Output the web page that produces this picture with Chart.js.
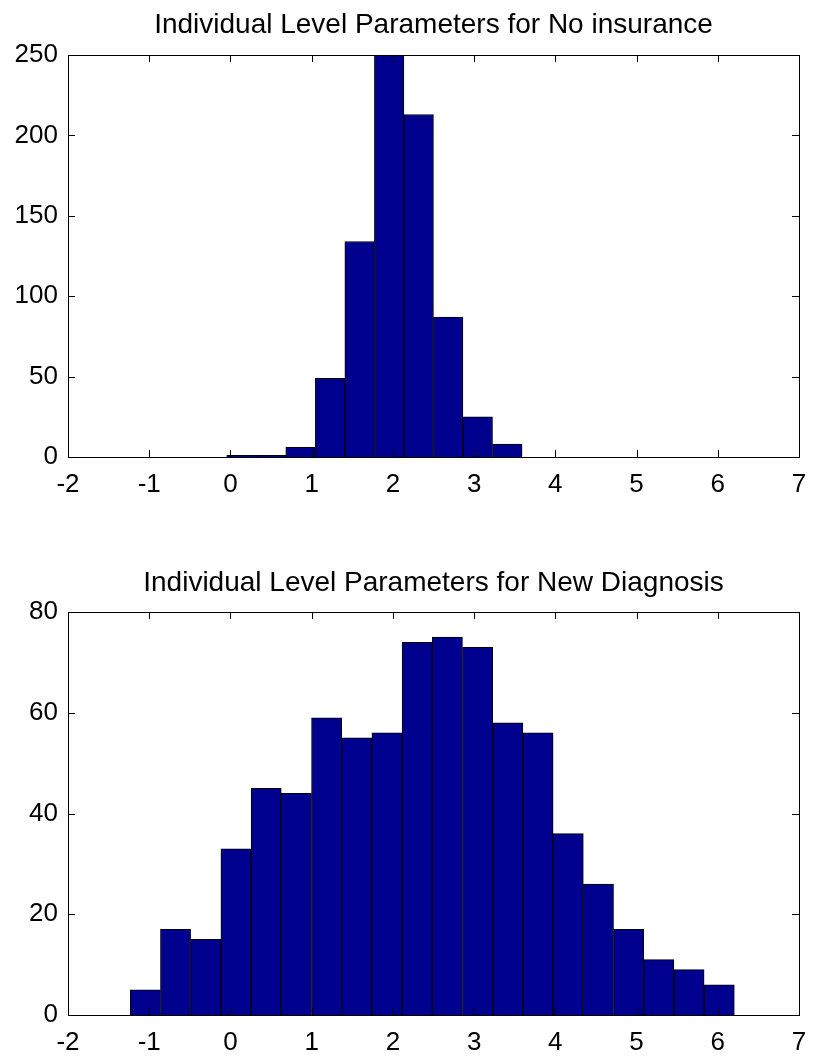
<!DOCTYPE html>
<html>
<head>
<meta charset="utf-8">
<script src="https://cdn.jsdelivr.net/npm/chart.js@4.4.1/dist/chart.umd.min.js"></script>
<style>
  html, body { margin: 0; padding: 0; background: #fff; }
  body { width: 815px; height: 1057px; position: relative; overflow: hidden; }
  .box { position: absolute; left: 0; width: 815px; }
  #b1 { top: 0; height: 530px; }
  #b2 { top: 555px; height: 502px; }
</style>
</head>
<body>
<div class="box" id="b1"><canvas id="c1"></canvas></div>
<div class="box" id="b2"><canvas id="c2"></canvas></div>
<script>
// ---- Data ----
const titleTop = "Individual Level Parameters for No insurance";
const titleBottom = "Individual Level Parameters for New Diagnosis";

const binCentersTop = [0.136, 0.500, 0.863, 1.227, 1.590, 1.954, 2.318, 2.681, 3.045, 3.409];
const countsTop     = [1, 1, 6, 49, 134, 250, 213, 87, 25, 8];

const binCentersBottom = [-1.048, -0.676, -0.304, 0.068, 0.440, 0.812, 1.184, 1.555, 1.927, 2.299,
                           2.671, 3.043, 3.415, 3.787, 4.159, 4.531, 4.903, 5.274, 5.646, 6.018];
const countsBottom     = [5, 17, 15, 33, 45, 44, 59, 55, 56, 74,
                          75, 73, 58, 56, 36, 26, 17, 11, 9, 6];

const xTicks = [-2, -1, 0, 1, 2, 3, 4, 5, 6, 7];
const yTicksTop = [0, 50, 100, 150, 200, 250];
const yTicksBottom = [0, 20, 40, 60, 80];

// ---- Frame + inward tick marks (MATLAB style) ----
const framePlugin = {
  id: 'frame',
  afterDatasetsDraw(chart) {
    const ctx = chart.ctx, a = chart.chartArea;
    const xs = chart.scales.x, ys = chart.scales.y;
    const L = 7;
    ctx.save();
    ctx.strokeStyle = '#000';
    ctx.lineWidth = 1;
    ctx.beginPath();
    xs.ticks.forEach(t => {
      const px = Math.round(xs.getPixelForValue(t.value)) + 0.5;
      ctx.moveTo(px, a.bottom); ctx.lineTo(px, a.bottom - L);
      ctx.moveTo(px, a.top); ctx.lineTo(px, a.top + L);
    });
    ys.ticks.forEach(t => {
      const py = Math.round(ys.getPixelForValue(t.value)) + 0.5;
      ctx.moveTo(a.left, py); ctx.lineTo(a.left + L, py);
      ctx.moveTo(a.right, py); ctx.lineTo(a.right - L, py);
    });
    ctx.stroke();
    ctx.strokeRect(Math.round(a.left) + 0.5, Math.round(a.top) + 0.5,
                   Math.round(a.right - a.left), Math.round(a.bottom - a.top));
    ctx.restore();
  }
};

const FONT = "'Liberation Sans', Arial, Helvetica, sans-serif";

function makeChart(id, title, centers, counts, yTicks, xAxisHeight, titlePad) {
  const yMax = yTicks[yTicks.length - 1];
  const yStep = yTicks[1] - yTicks[0];
  return new Chart(document.getElementById(id), {
    type: 'bar',
    data: {
      datasets: [{
        data: centers.map((c, i) => ({ x: c, y: counts[i] })),
        backgroundColor: '#00008F',
        borderColor: '#000000',
        borderWidth: 1,
        barPercentage: 1.0,
        categoryPercentage: 1.0
      }]
    },
    options: {
      responsive: true,
      maintainAspectRatio: false,
      animation: false,
      events: [],
      layout: { padding: { left: 0, right: 16, top: 0, bottom: 0 } },
      plugins: {
        legend: { display: false },
        tooltip: { enabled: false },
        title: {
          display: true,
          fullSize: false,
          text: title,
          color: '#000',
          font: { family: FONT, size: 28, weight: 'normal', lineHeight: 1.2 },
          padding: titlePad
        }
      },
      scales: {
        x: {
          type: 'linear',
          min: xTicks[0],
          max: xTicks[xTicks.length - 1],
          offset: false,
          afterBuildTicks: s => { s.ticks = xTicks.map(v => ({ value: v })); },
          ticks: { color: '#000', font: { family: FONT, size: 26 }, padding: 12, maxRotation: 0, autoSkip: false },
          grid: { display: false, drawTicks: false },
          border: { display: false },
          afterFit: s => { s.height = xAxisHeight; s.paddingLeft = 0; s.paddingRight = 0; }
        },
        y: {
          min: 0,
          max: yMax,
          afterBuildTicks: s => { s.ticks = yTicks.map(v => ({ value: v })); },
          ticks: { color: '#000', font: { family: FONT, size: 26 }, padding: 10, stepSize: yStep },
          grid: { display: false, drawTicks: false },
          border: { display: false },
          afterFit: s => { s.width = 68; s.paddingTop = 0; s.paddingBottom = 0; }
        }
      }
    },
    plugins: [framePlugin]
  });
}

makeChart('c1', titleTop, binCentersTop, countsTop, yTicksTop, 73, { top: 8, bottom: 13.4 });
makeChart('c2', titleBottom, binCentersBottom, countsBottom, yTicksBottom, 42, { top: 11, bottom: 12.4 });
</script>
</body>
</html>
